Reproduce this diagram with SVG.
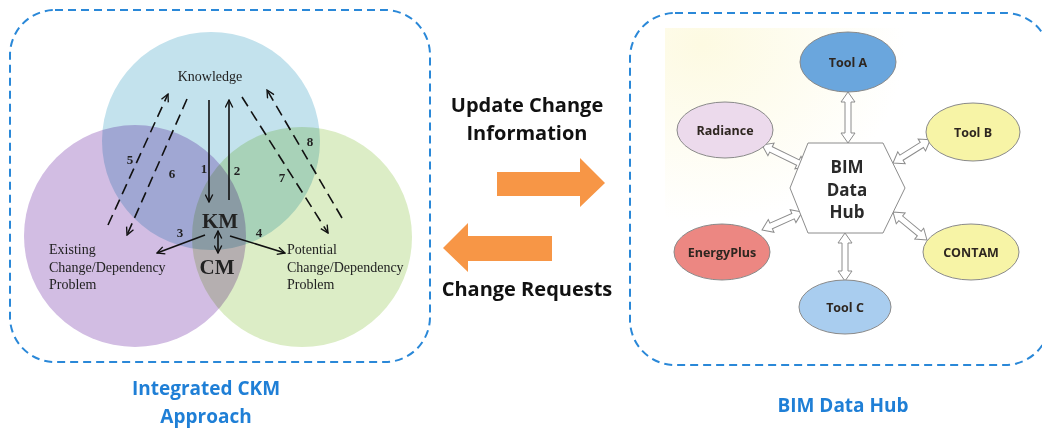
<svg xmlns="http://www.w3.org/2000/svg" width="1042" height="431" viewBox="0 0 1042 431">
  <style>
    .frame { fill: none; stroke: #2a88d8; stroke-width: 2; stroke-dasharray: 8 5; }
    .caption { font-family: "Open Sans", "Liberation Sans", sans-serif; font-weight: bold; font-size: 19px; fill: #1f7fd6; text-anchor: middle; }
    .flow { font-family: "Open Sans", "Liberation Sans", sans-serif; font-weight: bold; font-size: 20px; fill: #111; text-anchor: middle; }
    .serif { font-family: "Liberation Serif", "DejaVu Serif", serif; fill: #222; }
    .lbl { font-size: 14px; }
    .num { font-size: 13px; font-weight: bold; text-anchor: middle; }
    .big { font-size: 21px; font-weight: bold; text-anchor: middle; }
    .venn circle { mix-blend-mode: multiply; }
    .solid { fill: none; stroke: #111; stroke-width: 1.6; }
    .dash { fill: none; stroke: #111; stroke-width: 1.6; stroke-dasharray: 11 6; }
    .tool { stroke: #8a8a8a; stroke-width: 1; }
    .tooltxt { font-family: "Open Sans", "Liberation Sans", sans-serif; font-weight: bold; font-size: 12.5px; fill: #2e2620; text-anchor: middle; }
    .hubtxt { font-family: "Open Sans", "Liberation Sans", sans-serif; font-weight: bold; font-size: 17px; fill: #2a2a2a; text-anchor: middle; }
    .link { fill: #fff; stroke: #8c8c8c; stroke-width: 1; }
    .orange { fill: #f79646; }
  </style>
  <defs>
    <marker id="open" viewBox="0 0 12 12" refX="11" refY="6" markerWidth="9" markerHeight="9" markerUnits="userSpaceOnUse" orient="auto-start-reverse">
      <path d="M1,1 L11,6 L1,11" fill="none" stroke="#111" stroke-width="1.8"/>
    </marker>
    <radialGradient id="tint" cx="0.1" cy="0.05" r="0.55">
      <stop offset="0" stop-color="#fdfae2"/>
      <stop offset="1" stop-color="#ffffff"/>
    </radialGradient>
  </defs>

  <rect width="1042" height="431" fill="#ffffff"/>

  <!-- left panel: integrated CKM approach -->
  <rect class="frame" x="10" y="10" width="420" height="352" rx="45"/>
  <g id="venn" class="venn">
    <circle cx="211" cy="141" r="109" fill="#c3e2ed"/>
    <circle cx="135" cy="236" r="111" fill="#d2bde3"/>
    <circle cx="302" cy="237" r="110" fill="#dcedc6"/>
  </g>

  <g id="knowledge">
    <text class="serif lbl" x="210" y="81" text-anchor="middle">Knowledge</text>
  </g>
  <g id="existing">
    <text class="serif lbl" x="49" y="254">Existing</text>
    <text class="serif lbl" x="49" y="272">Change/Dependency</text>
    <text class="serif lbl" x="49" y="289">Problem</text>
  </g>
  <g id="potential">
    <text class="serif lbl" x="287" y="254">Potential</text>
    <text class="serif lbl" x="287" y="272">Change/Dependency</text>
    <text class="serif lbl" x="287" y="289">Problem</text>
  </g>
  <g id="km">
    <text class="serif big" x="220" y="228">KM</text>
  </g>
  <g id="cm">
    <text class="serif big" x="217" y="274">CM</text>
  </g>

  <g id="ckm-connectors">
    <line class="solid" x1="209" y1="100" x2="209" y2="202" marker-end="url(#open)"/>
    <line class="solid" x1="229" y1="200" x2="229" y2="100" marker-end="url(#open)"/>
    <line class="dash" x1="108" y1="225" x2="168" y2="94" marker-end="url(#open)"/>
    <line class="dash" x1="187" y1="99" x2="127" y2="235" marker-end="url(#open)"/>
    <line class="dash" x1="242" y1="97" x2="328" y2="233" marker-end="url(#open)"/>
    <line class="dash" x1="342" y1="218" x2="267" y2="90" marker-end="url(#open)"/>
    <line class="solid" x1="205" y1="235" x2="157" y2="253" marker-end="url(#open)"/>
    <line class="solid" x1="230" y1="236" x2="285" y2="253" marker-end="url(#open)"/>
    <line class="solid" x1="218" y1="231" x2="218" y2="253" marker-start="url(#open)" marker-end="url(#open)"/>
    <text class="serif num" x="130" y="164">5</text>
    <text class="serif num" x="172" y="178">6</text>
    <text class="serif num" x="204" y="173">1</text>
    <text class="serif num" x="237" y="175">2</text>
    <text class="serif num" x="282" y="182">7</text>
    <text class="serif num" x="310" y="146">8</text>
    <text class="serif num" x="180" y="237">3</text>
    <text class="serif num" x="259" y="237">4</text>
  </g>

  <text class="caption" x="206" y="395">Integrated CKM</text>
  <text class="caption" x="206" y="423">Approach</text>

  <!-- exchange between the two panels -->
  <g id="update">
    <text class="flow" x="527" y="112">Update Change</text>
    <text class="flow" x="527" y="140">Information</text>
    <polygon class="orange" points="497,172 580,172 580,158 605,183 580,207 580,196 497,196"/>
  </g>
  <g id="requests">
    <polygon class="orange" points="552,236 468,236 468,223 443,248 468,272 468,261 552,261"/>
    <text class="flow" x="527" y="296">Change Requests</text>
  </g>

  <!-- right panel: BIM data hub -->
  <rect class="frame" x="630" y="13" width="420" height="352" rx="45"/>
  <rect x="665" y="28" width="370" height="325" fill="url(#tint)"/>

  <g id="hub-connectors">
    <polygon class="link" transform="translate(848,92) rotate(90)" points="0,0 10,-7 10,-3 41,-3 41,-7 51,0 41,7 41,3 10,3 10,7"/>
    <polygon class="link" transform="translate(845,233) rotate(90)" points="0,0 10,-7 10,-3 38,-3 38,-7 48,0 38,7 38,3 10,3 10,7"/>
    <polygon class="link" transform="translate(762,145) rotate(26)" points="0,0 10,-7 10,-3 40,-3 40,-7 50,0 40,7 40,3 10,3 10,7"/>
    <polygon class="link" transform="translate(893,163) rotate(-32)" points="0,0 10,-7 10,-3 34,-3 34,-7 44,0 34,7 34,3 10,3 10,7"/>
    <polygon class="link" transform="translate(762,230) rotate(-24)" points="0,0 10,-7 10,-3 34,-3 34,-7 44,0 34,7 34,3 10,3 10,7"/>
    <polygon class="link" transform="translate(893,212) rotate(39.5)" points="0,0 10,-7 10,-3 34,-3 34,-7 44,0 34,7 34,3 10,3 10,7"/>
  </g>

  <g id="hub">
    <polygon points="790,188 808,143 883,143 905,188 883,233 808,233" fill="#ffffff" stroke="#8c8c8c" stroke-width="1"/>
    <text class="hubtxt" x="847" y="173">BIM</text>
    <text class="hubtxt" x="847" y="196">Data</text>
    <text class="hubtxt" x="847" y="218">Hub</text>
  </g>
  <g id="tool-a">
    <ellipse class="tool" cx="848" cy="62" rx="48" ry="30" fill="#6aa6dd"/>
    <text class="tooltxt" x="848" y="67">Tool A</text>
  </g>
  <g id="radiance">
    <ellipse class="tool" cx="725" cy="130" rx="48" ry="28" fill="#ecdaec"/>
    <text class="tooltxt" x="725" y="135">Radiance</text>
  </g>
  <g id="tool-b">
    <ellipse class="tool" cx="973" cy="132" rx="47" ry="29" fill="#f7f4a6"/>
    <text class="tooltxt" x="973" y="137">Tool B</text>
  </g>
  <g id="energyplus">
    <ellipse class="tool" cx="722" cy="252" rx="48" ry="28" fill="#ec8782"/>
    <text class="tooltxt" x="722" y="257">EnergyPlus</text>
  </g>
  <g id="contam">
    <ellipse class="tool" cx="971" cy="252" rx="48" ry="28" fill="#f7f4a6"/>
    <text class="tooltxt" x="971" y="257">CONTAM</text>
  </g>
  <g id="tool-c">
    <ellipse class="tool" cx="845" cy="307" rx="46" ry="27" fill="#a9cdef"/>
    <text class="tooltxt" x="845" y="312">Tool C</text>
  </g>

  <text class="caption" x="843" y="412">BIM Data Hub</text>
</svg>
